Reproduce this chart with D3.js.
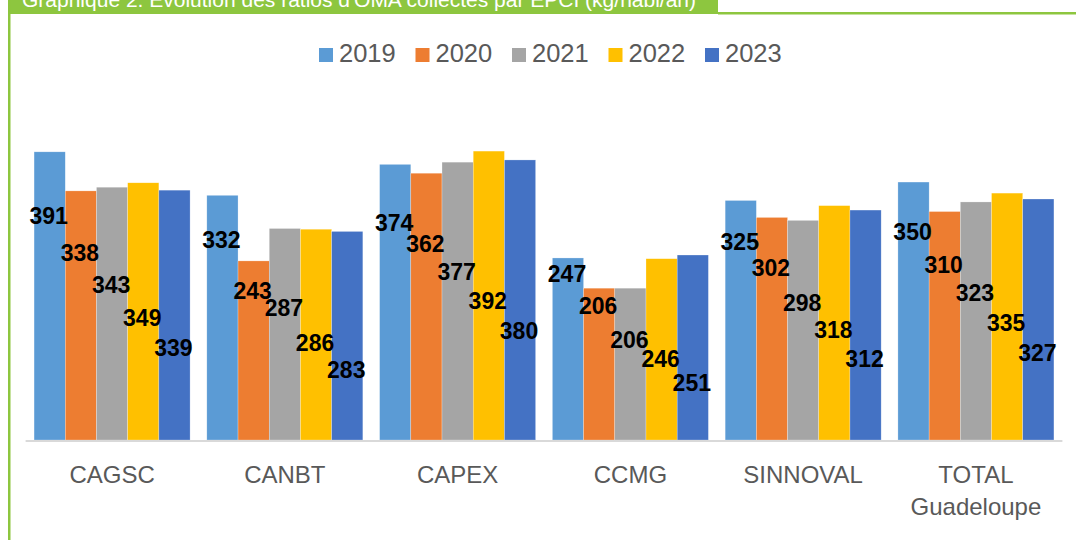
<!DOCTYPE html>
<html>
<head>
<meta charset="utf-8">
<script src="https://cdn.jsdelivr.net/npm/d3@7"></script>
<style>
  html, body { margin: 0; padding: 0; background: #fff; }
  svg { display: block; font-family: "Liberation Sans", Arial, sans-serif; }
</style>
</head>
<body>
<div id="container"></div>
<script>
const width = 1076;
const height = 540;

const title = "Graphique 2. Evolution des ratios d'OMA collectés par EPCI (kg/habi/an)";
const categories = ["CAGSC", "CANBT", "CAPEX", "CCMG", "SINNOVAL", "TOTAL Guadeloupe"];
const years = ["2019", "2020", "2021", "2022", "2023"];
const v2019 = [391, 332, 374, 247, 325, 350];
const v2020 = [338, 243, 362, 206, 302, 310];
const v2021 = [343, 287, 377, 206, 298, 323];
const v2022 = [349, 286, 392, 246, 318, 335];
const v2023 = [339, 283, 380, 251, 312, 327];
const series = [v2019, v2020, v2021, v2022, v2023];
const colors = ["#5B9BD5", "#ED7D31", "#A5A5A5", "#FFC000", "#4472C4"];
const green = "#8DC63F";

// data labels in the original sit staggered down the bars, not at the tops
const labelStagger = [-4, 12, 46, 81, 107];

const rows = categories.map((c, ci) => ({
  cat: c,
  vals: years.map((yr, si) => ({ year: yr, si, v: series[si][ci] }))
}));

const x0 = d3.scaleBand()
  .domain(categories)
  .range([25.6, 1062.4])
  .paddingInner(0.097)
  .paddingOuter(0.049);

const x1 = d3.scaleBand()
  .domain(years)
  .range([0, x0.bandwidth()]);

const y = d3.scaleLinear()
  .domain([0, 400])
  .range([440, 145.2]);

const yLabel = d3.scaleLinear()
  .domain([0, 400])
  .range([377, 216]);

const color = d3.scaleOrdinal().domain(years).range(colors);

const svg = d3.select("#container")
  .append("svg")
  .attr("width", width)
  .attr("height", height)
  .attr("viewBox", `0 0 ${width} ${height}`);

// frame
svg.append("rect")
  .attr("x", 8).attr("y", 0)
  .attr("width", 710).attr("height", 14)
  .attr("fill", green);

svg.append("rect")
  .attr("x", 718).attr("y", 12)
  .attr("width", width - 718).attr("height", 2.5)
  .attr("fill", green);

svg.append("rect")
  .attr("x", 8).attr("y", 0)
  .attr("width", 2.5).attr("height", height)
  .attr("fill", green);

svg.append("text")
  .attr("x", 22)
  .attr("y", 6.5)
  .attr("fill", "#fff")
  .attr("font-size", "21px")
  .text(title);

// legend
const legend = svg.append("g")
  .selectAll("g")
  .data(years)
  .join("g")
  .attr("transform", (d, i) => `translate(${319 + i * 96.5},0)`);

legend.append("rect")
  .attr("x", 0).attr("y", 48)
  .attr("width", 14).attr("height", 14)
  .attr("fill", d => color(d));

legend.append("text")
  .attr("x", 20)
  .attr("y", 62)
  .attr("font-size", "25.5px")
  .attr("fill", "#595959")
  .text(d => d);

// bars
const groups = svg.append("g")
  .selectAll("g")
  .data(rows)
  .join("g")
  .attr("transform", d => `translate(${x0(d.cat)},0)`);

groups.selectAll("rect")
  .data(d => d.vals)
  .join("rect")
  .attr("x", d => x1(d.year))
  .attr("y", d => y(d.v))
  .attr("width", x1.bandwidth())
  .attr("height", d => y(0) - y(d.v))
  .attr("fill", d => color(d.year))
  .attr("stroke", "#fff")
  .attr("stroke-opacity", 0.5)
  .attr("stroke-width", 0.5);

// x axis
const xAxis = svg.append("g")
  .attr("transform", `translate(0,${y(0) + 1})`)
  .call(d3.axisBottom(x0).tickSize(0).tickPadding(0));

xAxis.select(".domain")
  .attr("stroke", "#d9d9d9")
  .attr("stroke-width", 2)
  .attr("d", `M${x0.range()[0]},0H${x0.range()[1]}`);

xAxis.selectAll(".tick text")
  .attr("font-family", "Liberation Sans, Arial, sans-serif")
  .attr("font-size", "24px")
  .attr("fill", "#595959")
  .attr("dy", null)
  .attr("y", 42)
  .each(function (d) {
    const words = d.split(" ");
    const t = d3.select(this).text(null);
    words.forEach((w, i) => {
      t.append("tspan")
        .attr("x", 0)
        .attr("y", 42 + i * 32)
        .text(w);
    });
  });

// data labels
groups.selectAll("text.lbl")
  .data(d => d.vals)
  .join("text")
  .attr("class", "lbl")
  .attr("x", d => x1(d.year) + x1.bandwidth() / 2 - 1)
  .attr("y", d => yLabel(d.v) + labelStagger[d.si])
  .attr("dy", "0.36em")
  .attr("text-anchor", "middle")
  .attr("font-size", "23px")
  .attr("font-weight", "bold")
  .attr("fill", "#000")
  .text(d => d.v);
</script>
</body>
</html>
